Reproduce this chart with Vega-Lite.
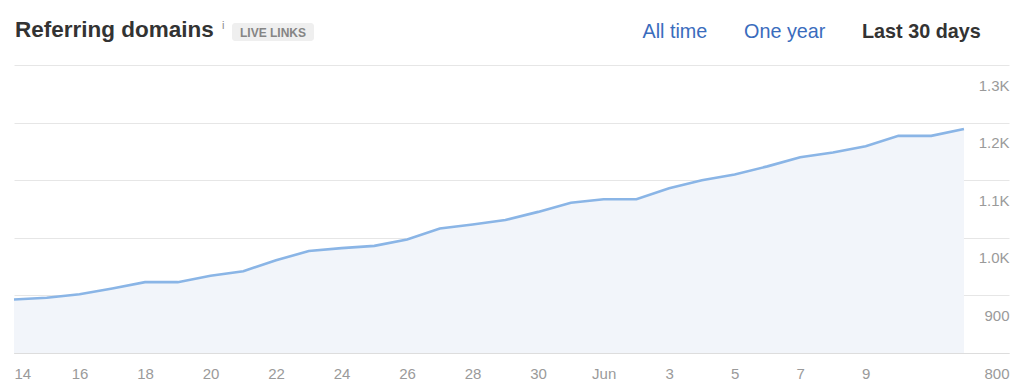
{
  "$schema": "https://vega.github.io/schema/vega-lite/v6.json",
  "autosize": {"type": "none"},
  "padding": {"left": 14, "top": 65, "right": 15, "bottom": 37},
  "width": 995,
  "height": 288,
  "background": "white",
  "config": {"view": {"stroke": null}, "font": "Liberation Sans"},
  "data": {
    "values": [
      {"date": "2023-05-14", "domains": 893},
      {"date": "2023-05-15", "domains": 896},
      {"date": "2023-05-16", "domains": 902},
      {"date": "2023-05-17", "domains": 912},
      {"date": "2023-05-18", "domains": 923},
      {"date": "2023-05-19", "domains": 923},
      {"date": "2023-05-20", "domains": 934},
      {"date": "2023-05-21", "domains": 942},
      {"date": "2023-05-22", "domains": 961},
      {"date": "2023-05-23", "domains": 977},
      {"date": "2023-05-24", "domains": 982},
      {"date": "2023-05-25", "domains": 986},
      {"date": "2023-05-26", "domains": 997},
      {"date": "2023-05-27", "domains": 1016},
      {"date": "2023-05-28", "domains": 1023},
      {"date": "2023-05-29", "domains": 1031},
      {"date": "2023-05-30", "domains": 1045},
      {"date": "2023-05-31", "domains": 1061},
      {"date": "2023-06-01", "domains": 1067},
      {"date": "2023-06-02", "domains": 1067},
      {"date": "2023-06-03", "domains": 1086},
      {"date": "2023-06-04", "domains": 1100},
      {"date": "2023-06-05", "domains": 1110},
      {"date": "2023-06-06", "domains": 1124},
      {"date": "2023-06-07", "domains": 1140},
      {"date": "2023-06-08", "domains": 1148},
      {"date": "2023-06-09", "domains": 1159},
      {"date": "2023-06-10", "domains": 1177},
      {"date": "2023-06-11", "domains": 1177},
      {"date": "2023-06-12", "domains": 1189}
    ]
  },
  "encoding": {
    "x": {
      "field": "date",
      "type": "temporal",
      "scale": {
        "type": "utc",
        "domain": [
          {"year": 2023, "month": 5, "date": 14, "utc": true},
          {"year": 2023, "month": 6, "date": 13, "hours": 9, "utc": true}
        ]
      },
      "axis": {
        "title": null,
        "values": [
          {"year": 2023, "month": 5, "date": 14, "utc": true},
          {"year": 2023, "month": 5, "date": 16, "utc": true},
          {"year": 2023, "month": 5, "date": 18, "utc": true},
          {"year": 2023, "month": 5, "date": 20, "utc": true},
          {"year": 2023, "month": 5, "date": 22, "utc": true},
          {"year": 2023, "month": 5, "date": 24, "utc": true},
          {"year": 2023, "month": 5, "date": 26, "utc": true},
          {"year": 2023, "month": 5, "date": 28, "utc": true},
          {"year": 2023, "month": 5, "date": 30, "utc": true},
          {"year": 2023, "month": 6, "date": 1, "utc": true},
          {"year": 2023, "month": 6, "date": 3, "utc": true},
          {"year": 2023, "month": 6, "date": 5, "utc": true},
          {"year": 2023, "month": 6, "date": 7, "utc": true},
          {"year": 2023, "month": 6, "date": 9, "utc": true},
          {"year": 2023, "month": 6, "date": 11, "utc": true}
        ],
        "labelExpr": "(utcdate(datum.value) == 11 && utcmonth(datum.value) == 5) ? '' : (utcdate(datum.value) == 1 ? utcFormat(datum.value, '%b') : utcFormat(datum.value, '%-d'))",
        "grid": false,
        "domain": true,
        "domainColor": "#dddddd",
        "ticks": true,
        "tickSize": -9,
        "tickColor": "#d4d4d4",
        "labelPadding": 22,
        "labelColor": "#9a9a9a",
        "labelFontSize": 15,
        "labelFont": "Liberation Sans",
        "labelOverlap": false
      }
    },
    "y": {
      "field": "domains",
      "type": "quantitative",
      "scale": {"domain": [800, 1300], "zero": false, "nice": false},
      "axis": {
        "title": null,
        "orient": "right",
        "values": [800, 900, 1000, 1100, 1200, 1300],
        "labelExpr": "datum.value >= 1000 ? format(datum.value / 1000, '.1f') + 'K' : format(datum.value, 'd')",
        "grid": true,
        "gridColor": "#e6e6e6",
        "domain": false,
        "ticks": false,
        "tickSize": 0,
        "labelPadding": 0,
        "labelAlign": "right",
        "labelBaseline": "middle",
        "labelOffset": 20,
        "labelColor": "#9a9a9a",
        "labelFontSize": 15,
        "labelFont": "Liberation Sans",
        "labelFlush": false,
        "labelOverlap": false
      }
    }
  },
  "layer": [
    {
      "mark": {"type": "area", "color": "#f2f5fa"},
      "encoding": {"y2": {"datum": 800}}
    },
    {
      "mark": {"type": "line", "color": "#8ab5e6", "strokeWidth": 2.6}
    },
    {
      "data": {"values": [{"label": "Referring domains"}]},
      "mark": {"type": "text", "x": 1, "y": -28, "align": "left", "baseline": "alphabetic", "fontSize": 22.5, "fontWeight": "bold", "color": "#333333", "font": "Liberation Sans"},
      "encoding": {"text": {"field": "label"}, "x": null, "y": null}
    },
    {
      "data": {"values": [{"label": "i"}]},
      "mark": {"type": "text", "x": 208, "y": -36, "align": "left", "baseline": "alphabetic", "fontSize": 11, "color": "#8a8a8a", "font": "Liberation Sans"},
      "encoding": {"text": {"field": "label"}, "x": null, "y": null}
    },
    {
      "data": {"values": [{"label": "LIVE LINKS"}]},
      "mark": {"type": "rect", "x": 218, "x2": 300, "y": -42, "y2": -24, "cornerRadius": 3, "color": "#efefef"},
      "encoding": {"x": null, "y": null}
    },
    {
      "data": {"values": [{"label": "LIVE LINKS"}]},
      "mark": {"type": "text", "x": 259, "y": -28.5, "align": "center", "baseline": "alphabetic", "fontSize": 12, "fontWeight": "bold", "color": "#858585", "font": "Liberation Sans"},
      "encoding": {"text": {"field": "label"}, "x": null, "y": null}
    },
    {
      "data": {"values": [{"label": "All time"}]},
      "mark": {"type": "text", "x": 628.5, "y": -27, "align": "left", "baseline": "alphabetic", "fontSize": 19.8, "color": "#3a6cbd", "font": "Liberation Sans"},
      "encoding": {"text": {"field": "label"}, "x": null, "y": null}
    },
    {
      "data": {"values": [{"label": "One year"}]},
      "mark": {"type": "text", "x": 730, "y": -27, "align": "left", "baseline": "alphabetic", "fontSize": 19.8, "color": "#3a6cbd", "font": "Liberation Sans"},
      "encoding": {"text": {"field": "label"}, "x": null, "y": null}
    },
    {
      "data": {"values": [{"label": "Last 30 days"}]},
      "mark": {"type": "text", "x": 848, "y": -27, "align": "left", "baseline": "alphabetic", "fontSize": 19.8, "fontWeight": "bold", "color": "#333333", "font": "Liberation Sans"},
      "encoding": {"text": {"field": "label"}, "x": null, "y": null}
    },
    {
      "data": {"values": [{"label": "sep1"}]},
      "mark": {"type": "rule", "x": 710.5, "y": -44, "y2": -22, "color": "#dddddd", "strokeWidth": 1},
      "encoding": {"x": null, "y": null}
    },
    {
      "data": {"values": [{"label": "sep2"}]},
      "mark": {"type": "rule", "x": 827, "y": -44, "y2": -22, "color": "#dddddd", "strokeWidth": 1},
      "encoding": {"x": null, "y": null}
    }
  ]
}
